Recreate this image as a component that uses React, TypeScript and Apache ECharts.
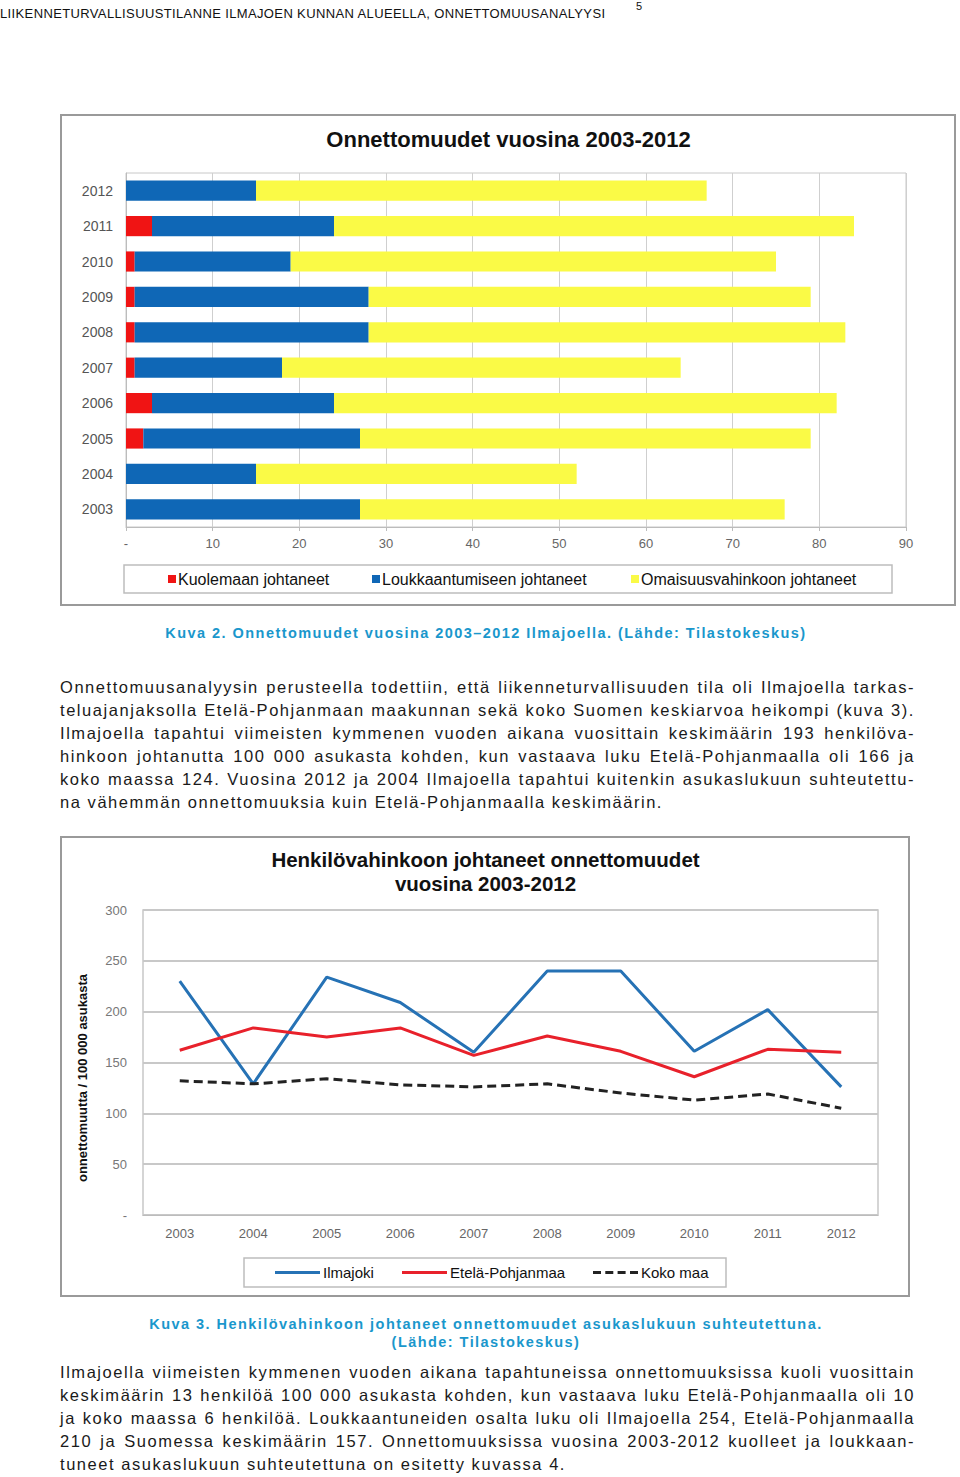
import React, { useEffect, useRef } from "react";
import * as echarts from "echarts";

// ---------- Chart 1 data ----------
const years = ["2003", "2004", "2005", "2006", "2007", "2008", "2009", "2010", "2011", "2012"];
const deaths = [0, 0, 2, 3, 1, 1, 1, 1, 3, 0];
const injuries = [27, 15, 25, 21, 17, 27, 27, 18, 21, 15];
const property = [49, 37, 52, 58, 46, 55, 51, 56, 60, 52];
const barSeriesNames = ["Kuolemaan johtaneet", "Loukkaantumiseen johtaneet", "Omaisuusvahinkoon johtaneet"];

// ---------- Chart 2 data ----------
const lineYears = ["2003", "2004", "2005", "2006", "2007", "2008", "2009", "2010", "2011", "2012"];
const ilmajoki = [230, 129, 234, 209, 160, 240, 240, 161, 202, 126];
const etelaPohjanmaa = [162, 184, 175, 184, 157, 176, 161, 136, 163, 160];
const kokoMaa = [132, 129, 134, 128, 126, 129, 120, 113, 119, 105];
const lineSeriesNames = ["Ilmajoki", "Etelä-Pohjanmaa", "Koko maa"];

const FONT = "'Liberation Sans', Arial, sans-serif";

const para1 = [
  "Onnettomuusanalyysin perusteella todettiin, että liikenneturvallisuuden tila oli Ilmajoella tarkas-",
  "teluajanjaksolla Etelä-Pohjanmaan maakunnan sekä koko Suomen keskiarvoa heikompi (kuva 3).",
  "Ilmajoella tapahtui viimeisten kymmenen vuoden aikana vuosittain keskimäärin 193 henkilöva-",
  "hinkoon johtanutta 100 000 asukasta kohden, kun vastaava luku Etelä-Pohjanmaalla oli 166 ja",
  "koko maassa 124. Vuosina 2012 ja 2004 Ilmajoella tapahtui kuitenkin asukaslukuun suhteutettu-",
  "na vähemmän onnettomuuksia kuin Etelä-Pohjanmaalla keskimäärin.",
];
const para2 = [
  "Ilmajoella viimeisten kymmenen vuoden aikana tapahtuneissa onnettomuuksissa kuoli vuosittain",
  "keskimäärin 13 henkilöä 100 000 asukasta kohden, kun vastaava luku Etelä-Pohjanmaalla oli 10",
  "ja koko maassa 6 henkilöä. Loukkaantuneiden osalta luku oli Ilmajoella 254, Etelä-Pohjanmaalla",
  "210 ja Suomessa keskimäärin 157. Onnettomuuksissa vuosina 2003-2012 kuolleet ja loukkaan-",
  "tuneet asukaslukuun suhteutettuna on esitetty kuvassa 4.",
];

const SOLID_ICON = "path://M0,0h45v3h-45z";
const DASH_ICON = "path://M0,0h8v3h-8z M12.3,0h8v3h-8z M24.6,0h8v3h-8z M37,0h8v3h-8z";

function BarChart() {
  const ref = useRef<HTMLDivElement>(null);
  useEffect(() => {
    const chart = echarts.init(ref.current!, null, { renderer: "svg" });
    const colors = ["#f01414", "#0f67b6", "#fafa46"];
    const legendLefts = [103, 307, 566];
    chart.setOption({
      animation: false,
      textStyle: { fontFamily: FONT },
      title: {
        text: "Onnettomuudet vuosina 2003-2012",
        left: "center",
        top: 9,
        textStyle: { fontSize: 22, fontWeight: "bold", color: "#111", fontFamily: FONT },
      },
      graphic: [
        { type: "rect", shape: { x: 1, y: 1, width: 894, height: 490 }, style: { fill: "none", stroke: "#9a9a9a", lineWidth: 2 } },
        { type: "rect", shape: { x: 64, y: 451, width: 768, height: 28 }, style: { fill: "none", stroke: "#bdbdbd", lineWidth: 1.5 } },
      ],
      legend: barSeriesNames.map((n, i) => ({
        data: [n],
        left: legendLefts[i],
        top: 452,
        icon: "rect",
        itemWidth: 8,
        itemHeight: 8,
        itemGap: 2,
        textStyle: { fontSize: 16, color: "#111", fontFamily: FONT, padding: [0, 0, 0, -3] },
      })),
      grid: { left: 66, right: 51, top: 59, bottom: 80, show: true, borderColor: "#c8c8c8", borderWidth: 1 },
      xAxis: {
        type: "value",
        min: 0,
        max: 90,
        interval: 10,
        axisLine: { show: true, lineStyle: { color: "#bcbcbc" } },
        axisTick: { show: true, length: 4, lineStyle: { color: "#bcbcbc" } },
        splitLine: { lineStyle: { color: "#cfcfcf" } },
        axisLabel: { color: "#666", fontSize: 13, margin: 10, formatter: (v: number) => (v === 0 ? "-" : String(v)) },
      },
      yAxis: {
        type: "category",
        data: years,
        axisLine: { show: true, lineStyle: { color: "#bcbcbc" } },
        axisTick: { show: false },
        axisLabel: { color: "#555", fontSize: 14, margin: 13 },
      },
      series: [deaths, injuries, property].map((d, i) => ({
        name: barSeriesNames[i],
        type: "bar",
        stack: "total",
        data: d,
        barWidth: "57%",
        itemStyle: { color: colors[i] },
      })),
    });
    return () => chart.dispose();
  }, []);
  return <div ref={ref} style={{ position: "absolute", left: 60, top: 114, width: 897, height: 493 }} />;
}

function LineChart() {
  const ref = useRef<HTMLDivElement>(null);
  useEffect(() => {
    const chart = echarts.init(ref.current!, null, { renderer: "svg" });
    const colors = ["#2672b5", "#e8212b", "#222222"];
    const legendLefts = [210, 337, 528];
    const icons = [SOLID_ICON, SOLID_ICON, DASH_ICON];
    const dataSets = [ilmajoki, etelaPohjanmaa, kokoMaa];
    chart.setOption({
      animation: false,
      textStyle: { fontFamily: FONT },
      title: {
        text: "Henkilövahinkoon johtaneet onnettomuudet\nvuosina 2003-2012",
        left: "center",
        top: 6,
        textStyle: { fontSize: 20.5, fontWeight: "bold", color: "#111", lineHeight: 24, fontFamily: FONT },
      },
      graphic: [
        { type: "rect", shape: { x: 1, y: 1, width: 848, height: 459 }, style: { fill: "none", stroke: "#9a9a9a", lineWidth: 2 } },
        { type: "rect", shape: { x: 184, y: 422, width: 482, height: 29 }, style: { fill: "none", stroke: "#bdbdbd", lineWidth: 1.5 } },
        {
          type: "text",
          x: 22,
          y: 242,
          rotation: Math.PI / 2,
          style: {
            text: "onnettomuutta / 100 000 asukasta",
            fontSize: 13,
            fontWeight: "bold",
            fill: "#111",
            align: "center",
            verticalAlign: "middle",
            fontFamily: FONT,
          },
        },
      ],
      legend: lineSeriesNames.map((n, i) => ({
        data: [n],
        left: legendLefts[i],
        top: 424,
        icon: icons[i],
        itemWidth: 45,
        itemHeight: 3,
        itemGap: 2,
        textStyle: { fontSize: 15, color: "#111", fontFamily: FONT, padding: [0, 0, 0, -2] },
      })),
      grid: { left: 83, right: 33, top: 74, bottom: 83, show: true, borderColor: "#c8c8c8", borderWidth: 1.5 },
      xAxis: {
        type: "category",
        data: lineYears,
        boundaryGap: true,
        axisLine: { show: true, lineStyle: { color: "#bcbcbc" } },
        axisTick: { show: false },
        axisLabel: { color: "#666", fontSize: 13, margin: 12 },
      },
      yAxis: {
        type: "value",
        min: 0,
        max: 300,
        interval: 50,
        axisLine: { show: false },
        axisTick: { show: false },
        splitLine: { lineStyle: { color: "#c8c8c8", width: 2 } },
        axisLabel: { color: "#777", fontSize: 13, margin: 16, formatter: (v: number) => (v === 0 ? "-" : String(v)) },
      },
      series: dataSets.map((d, i) => ({
        name: lineSeriesNames[i],
        type: "line",
        data: d,
        symbol: "none",
        lineStyle: { color: colors[i], width: 3, type: i === 2 ? [9, 5] : "solid" },
        itemStyle: { color: colors[i] },
      })),
    });
    return () => chart.dispose();
  }, []);
  return <div ref={ref} style={{ position: "absolute", left: 60, top: 836, width: 851, height: 462 }} />;
}

function Paragraph({ lines, top }: { lines: string[]; top: number }) {
  return (
    <div style={{ position: "absolute", left: 60, top, width: 855, fontFamily: FONT, fontSize: 16.5, color: "#1a1a1a", letterSpacing: "1.55px" }}>
      {lines.map((l, i) => {
        const last = i === lines.length - 1;
        return (
          <div
            key={i}
            style={{
              height: 23,
              lineHeight: "23px",
              textAlign: last ? "left" : "justify",
              textAlignLast: last ? "left" : "justify",
              whiteSpace: last ? "nowrap" : "normal",
              overflow: "visible",
            } as any}
          >
            {l}
          </div>
        );
      })}
    </div>
  );
}

export default function App() {
  const caption: React.CSSProperties = {
    position: "absolute",
    left: 0,
    width: 972,
    textAlign: "center",
    fontFamily: FONT,
    fontWeight: "bold",
    fontSize: 14.5,
    color: "#1a97cc",
    letterSpacing: "1.45px",
    lineHeight: "18px",
    whiteSpace: "nowrap",
  };
  return (
    <div style={{ position: "absolute", left: 0, top: 0, width: 960, height: 1477, background: "#fff", overflow: "hidden" }}>
      <div style={{ position: "absolute", left: 0, top: 5, fontFamily: FONT, fontSize: 13, color: "#111", letterSpacing: "0.37px", lineHeight: "18px", whiteSpace: "nowrap" }}>
        LIIKENNETURVALLISUUSTILANNE ILMAJOEN KUNNAN ALUEELLA, ONNETTOMUUSANALYYSI
      </div>
      <div style={{ position: "absolute", left: 636, top: 0, fontFamily: FONT, fontSize: 11, color: "#111", lineHeight: "13px" }}>5</div>
      <BarChart />
      <div style={{ ...caption, top: 624 }}>Kuva 2. Onnettomuudet vuosina 2003–2012 Ilmajoella. (Lähde: Tilastokeskus)</div>
      <Paragraph lines={para1} top={676} />
      <LineChart />
      <div style={{ ...caption, top: 1315 }}>
        Kuva 3. Henkilövahinkoon johtaneet onnettomuudet asukaslukuun suhteutettuna.
        <br />
        (Lähde: Tilastokeskus)
      </div>
      <Paragraph lines={para2} top={1361} />
    </div>
  );
}
